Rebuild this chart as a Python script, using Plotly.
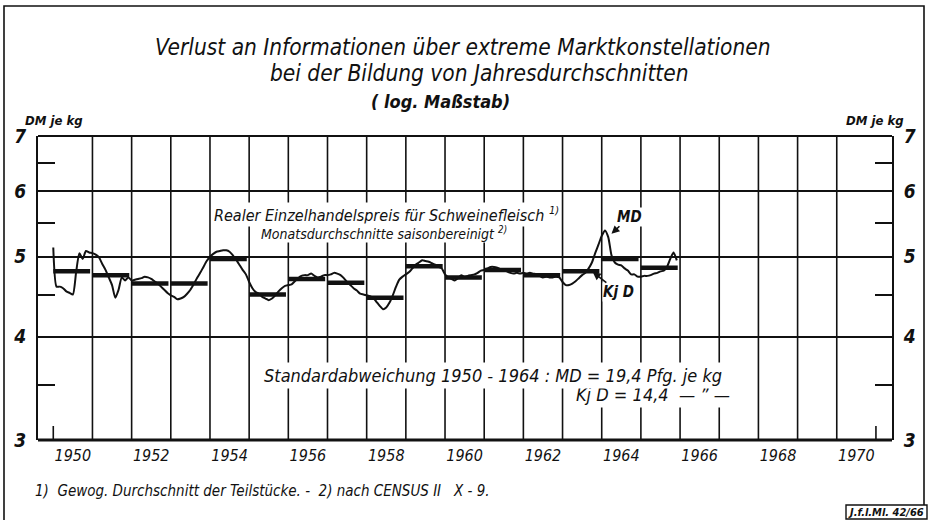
import numpy as np
import plotly.graph_objects as go

# ---- data -------------------------------------------------------------
years = list(range(1950, 1966))

# calendar-year averages (KjD), DM per kg
kjd = [4.80, 4.75, 4.64, 4.64, 4.97, 4.50, 4.70, 4.65,
       4.46, 4.87, 4.72, 4.82, 4.75, 4.80, 4.97, 4.85]

# monthly averages, seasonally adjusted (MD), Jan..Dec of each year
md = [
    5.13, 4.60, 4.60, 4.58, 4.54, 4.52, 4.50, 4.79, 5.05, 4.97, 5.08, 5.06,  # 1950
    5.05, 5.03, 4.99, 4.90, 4.82, 4.72, 4.62, 4.46, 4.56, 4.72, 4.68, 4.72,  # 1951
    4.68, 4.69, 4.70, 4.71, 4.73, 4.72, 4.70, 4.67, 4.64, 4.60, 4.56, 4.52,  # 1952
    4.49, 4.47, 4.44, 4.45, 4.47, 4.51, 4.56, 4.63, 4.71, 4.78, 4.86, 4.94,  # 1953
    5.00, 5.04, 5.07, 5.08, 5.09, 5.09, 5.07, 5.02, 4.96, 4.89, 4.82, 4.76,  # 1954
    4.66, 4.58, 4.53, 4.51, 4.47, 4.45, 4.43, 4.45, 4.49, 4.54, 4.58, 4.61,  # 1955
    4.62, 4.63, 4.67, 4.71, 4.74, 4.75, 4.75, 4.77, 4.74, 4.72, 4.73, 4.75,  # 1956
    4.75, 4.76, 4.78, 4.77, 4.75, 4.71, 4.66, 4.62, 4.58, 4.55, 4.51, 4.50,  # 1957
    4.49, 4.48, 4.46, 4.41, 4.36, 4.32, 4.34, 4.40, 4.49, 4.60, 4.69, 4.73,  # 1958
    4.76, 4.79, 4.84, 4.89, 4.92, 4.95, 4.94, 4.93, 4.91, 4.89, 4.86, 4.84,  # 1959
    4.76, 4.72, 4.70, 4.68, 4.71, 4.75, 4.72, 4.74, 4.75, 4.76, 4.78, 4.81,  # 1960
    4.82, 4.84, 4.86, 4.86, 4.85, 4.83, 4.82, 4.80, 4.78, 4.77, 4.78, 4.77,  # 1961
    4.78, 4.77, 4.78, 4.77, 4.76, 4.74, 4.72, 4.73, 4.72, 4.72, 4.73, 4.72,  # 1962
    4.66, 4.62, 4.62, 4.64, 4.67, 4.71, 4.75, 4.78, 4.84, 4.92, 5.05, 5.17,  # 1963
    5.30, 5.38, 5.28, 5.02, 4.92, 4.89, 4.88, 4.84, 4.81, 4.76, 4.76, 4.73,  # 1964
    4.73, 4.74, 4.74, 4.75, 4.77, 4.78, 4.80, 4.81, 4.86, 4.97, 5.06, 4.95,  # 1965
]

x_label_years = list(range(1950, 1971, 2))
y_tick_values = [3, 4, 5, 6, 7]
y_minor_values = [3.5, 4.5, 5.5, 6.5]
grid_years = list(range(1951, 1971))
edge_years = [1950, 1971]

# ---- geometry ---------------------------------------------------------
W, H = 928, 520
L, R, T, B = 38, 36, 136, 80
PW, PH = W - L - R, H - T - B
X_RANGE = [1949.61, 1971.41]
Y_RANGE = [np.log10(3), np.log10(7)]


def px(x):
    return (x - L) / PW


def py(y):
    return (H - B - y) / PH


FONT = "DejaVu Sans Condensed, DejaVu Sans, sans-serif"
INK = "#111111"


def f(size, weight="normal"):
    return dict(family=FONT, size=size, color=INK, style="italic", weight=weight)


# month positions: start of each month
t_months = [yr + m / 12 for yr in years for m in range(12)]

# annual averages as short horizontal bars spanning each year
seg_x, seg_y = [], []
for yr, v in zip(years, kjd):
    seg_x += [yr, yr + 0.94, None]
    seg_y += [v, v, None]

fig = go.Figure()
fig.add_trace(go.Scatter(x=t_months, y=md, mode="lines",
                         line=dict(color=INK, width=2, shape="spline", smoothing=0.6),
                         hoverinfo="skip", showlegend=False))
fig.add_trace(go.Scatter(x=seg_x, y=seg_y, mode="lines",
                         line=dict(color=INK, width=4.5),
                         hoverinfo="skip", showlegend=False))
# invisible trace to carry the right-hand axis
fig.add_trace(go.Scatter(x=[X_RANGE[0]], y=[5], yaxis="y2", mode="markers",
                         marker=dict(opacity=0), hoverinfo="skip", showlegend=False))

shapes = []
for yr in grid_years:
    shapes.append(dict(type="line", xref="x", yref="paper", x0=yr, x1=yr, y0=0, y1=1,
                       line=dict(color=INK, width=1.6), layer="below"))
for yr in edge_years:
    shapes.append(dict(type="line", xref="x", yref="paper", x0=yr, x1=yr, y0=0, y1=14 / PH,
                       line=dict(color=INK, width=1.6), layer="below"))
# top and bottom frame of the plotting field
shapes.append(dict(type="line", xref="paper", yref="paper", x0=0, x1=1, y0=1, y1=1,
                   line=dict(color=INK, width=2)))
shapes.append(dict(type="line", xref="paper", yref="paper", x0=0, x1=1, y0=0, y1=0,
                   line=dict(color=INK, width=3)))
# outer sheet border (left, top, right)
shapes.append(dict(type="path", xref="paper", yref="paper",
                   path=f"M {px(4)},{py(520)} L {px(4)},{py(6)} L {px(924)},{py(6)} "
                        f"L {px(924)},{py(505)}",
                   line=dict(color=INK, width=1.6)))
# reference box bottom right
shapes.append(dict(type="rect", xref="paper", yref="paper",
                   x0=px(846), x1=px(927), y0=py(519), y1=py(505),
                   line=dict(color=INK, width=1.4), fillcolor="white"))

ann = []


def text(x, y, s, size, xanchor="center", weight="normal", **kw):
    ann.append(dict(x=px(x), y=py(y), xref="paper", yref="paper", text=s,
                    showarrow=False, xanchor=xanchor, yanchor="middle",
                    font=f(size, weight), **kw))


text(463, 47, "Verlust an Informationen über extreme Marktkonstellationen", 22.5)
text(479, 73, "bei der Bildung von Jahresdurchschnitten", 22.5)
text(440, 101, "( log. Maßstab)", 18, weight="bold")
text(23, 120, "DM je kg", 13, xanchor="left", weight="bold")
text(906, 120, "DM je kg", 13, xanchor="right", weight="bold")
text(386, 214, "Realer Einzelhandelspreis für Schweinefleisch <sup>1)</sup>", 16,
     bgcolor="white", borderpad=1)
text(384, 233, "Monatsdurchschnitte saisonbereinigt <sup>2)</sup>", 14,
     bgcolor="white", borderpad=0)
text(653, 394, "Kj D = 14,4  — \u201d —", 18, bgcolor="white", borderpad=2)
text(493, 375, "Standardabweichung 1950 - 1964 : MD = 19,4 Pfg. je kg", 18,
     bgcolor="white", borderpad=2)
text(33, 491, "1)  Gewog. Durchschnitt der Teilstücke. -  2) nach CENSUS II   X - 9.", 15,
     xanchor="left")
text(886, 512, "J.f.l.Ml. 42/66", 11, weight="bold")

# labelled arrows for the two series
ann.append(dict(x=1964.25, y=np.log10(5.33), xref="x", yref="y", text="MD",
                showarrow=True, arrowhead=2, arrowsize=1, arrowwidth=1.6, arrowcolor=INK,
                ax=18, ay=-17, font=f(15, "bold"), bgcolor="white", borderpad=0))
ann.append(dict(x=1963.77, y=np.log10(4.79), xref="x", yref="y", text="Kj D",
                showarrow=True, arrowhead=2, arrowsize=1, arrowwidth=1.6, arrowcolor=INK,
                ax=26, ay=20, font=f(15, "bold"), bgcolor="white", borderpad=0))

yaxis_common = dict(type="log", range=Y_RANGE, tickmode="array",
                    tickvals=y_tick_values, ticktext=[str(v) for v in y_tick_values],
                    tickfont=f(19, "bold"), ticks="", showline=True, linecolor=INK,
                    linewidth=2, zeroline=False, fixedrange=True,
                    minor=dict(tickmode="array", tickvals=y_minor_values, ticks="inside",
                               ticklen=17, tickwidth=1.8, tickcolor=INK, showgrid=False))

fig.update_layout(
    width=W, height=H,
    margin=dict(l=L, r=R, t=T, b=B, autoexpand=False),
    paper_bgcolor="white", plot_bgcolor="white",
    showlegend=False,
    xaxis=dict(range=X_RANGE, tickmode="array",
               tickvals=[yr + 0.5 for yr in x_label_years],
               ticktext=[str(yr) for yr in x_label_years],
               tickfont=f(16), ticks="", showgrid=False, zeroline=False,
               showline=False, fixedrange=True, ticklabelstandoff=4),
    yaxis=dict(**yaxis_common, side="left", showgrid=True, gridcolor=INK, gridwidth=1.6,
               ticklabelstandoff=6),
    yaxis2=dict(**yaxis_common, side="right", overlaying="y", showgrid=False,
                ticklabelstandoff=6),
    shapes=shapes,
    annotations=ann,
)

fig.write_html("out.html")
